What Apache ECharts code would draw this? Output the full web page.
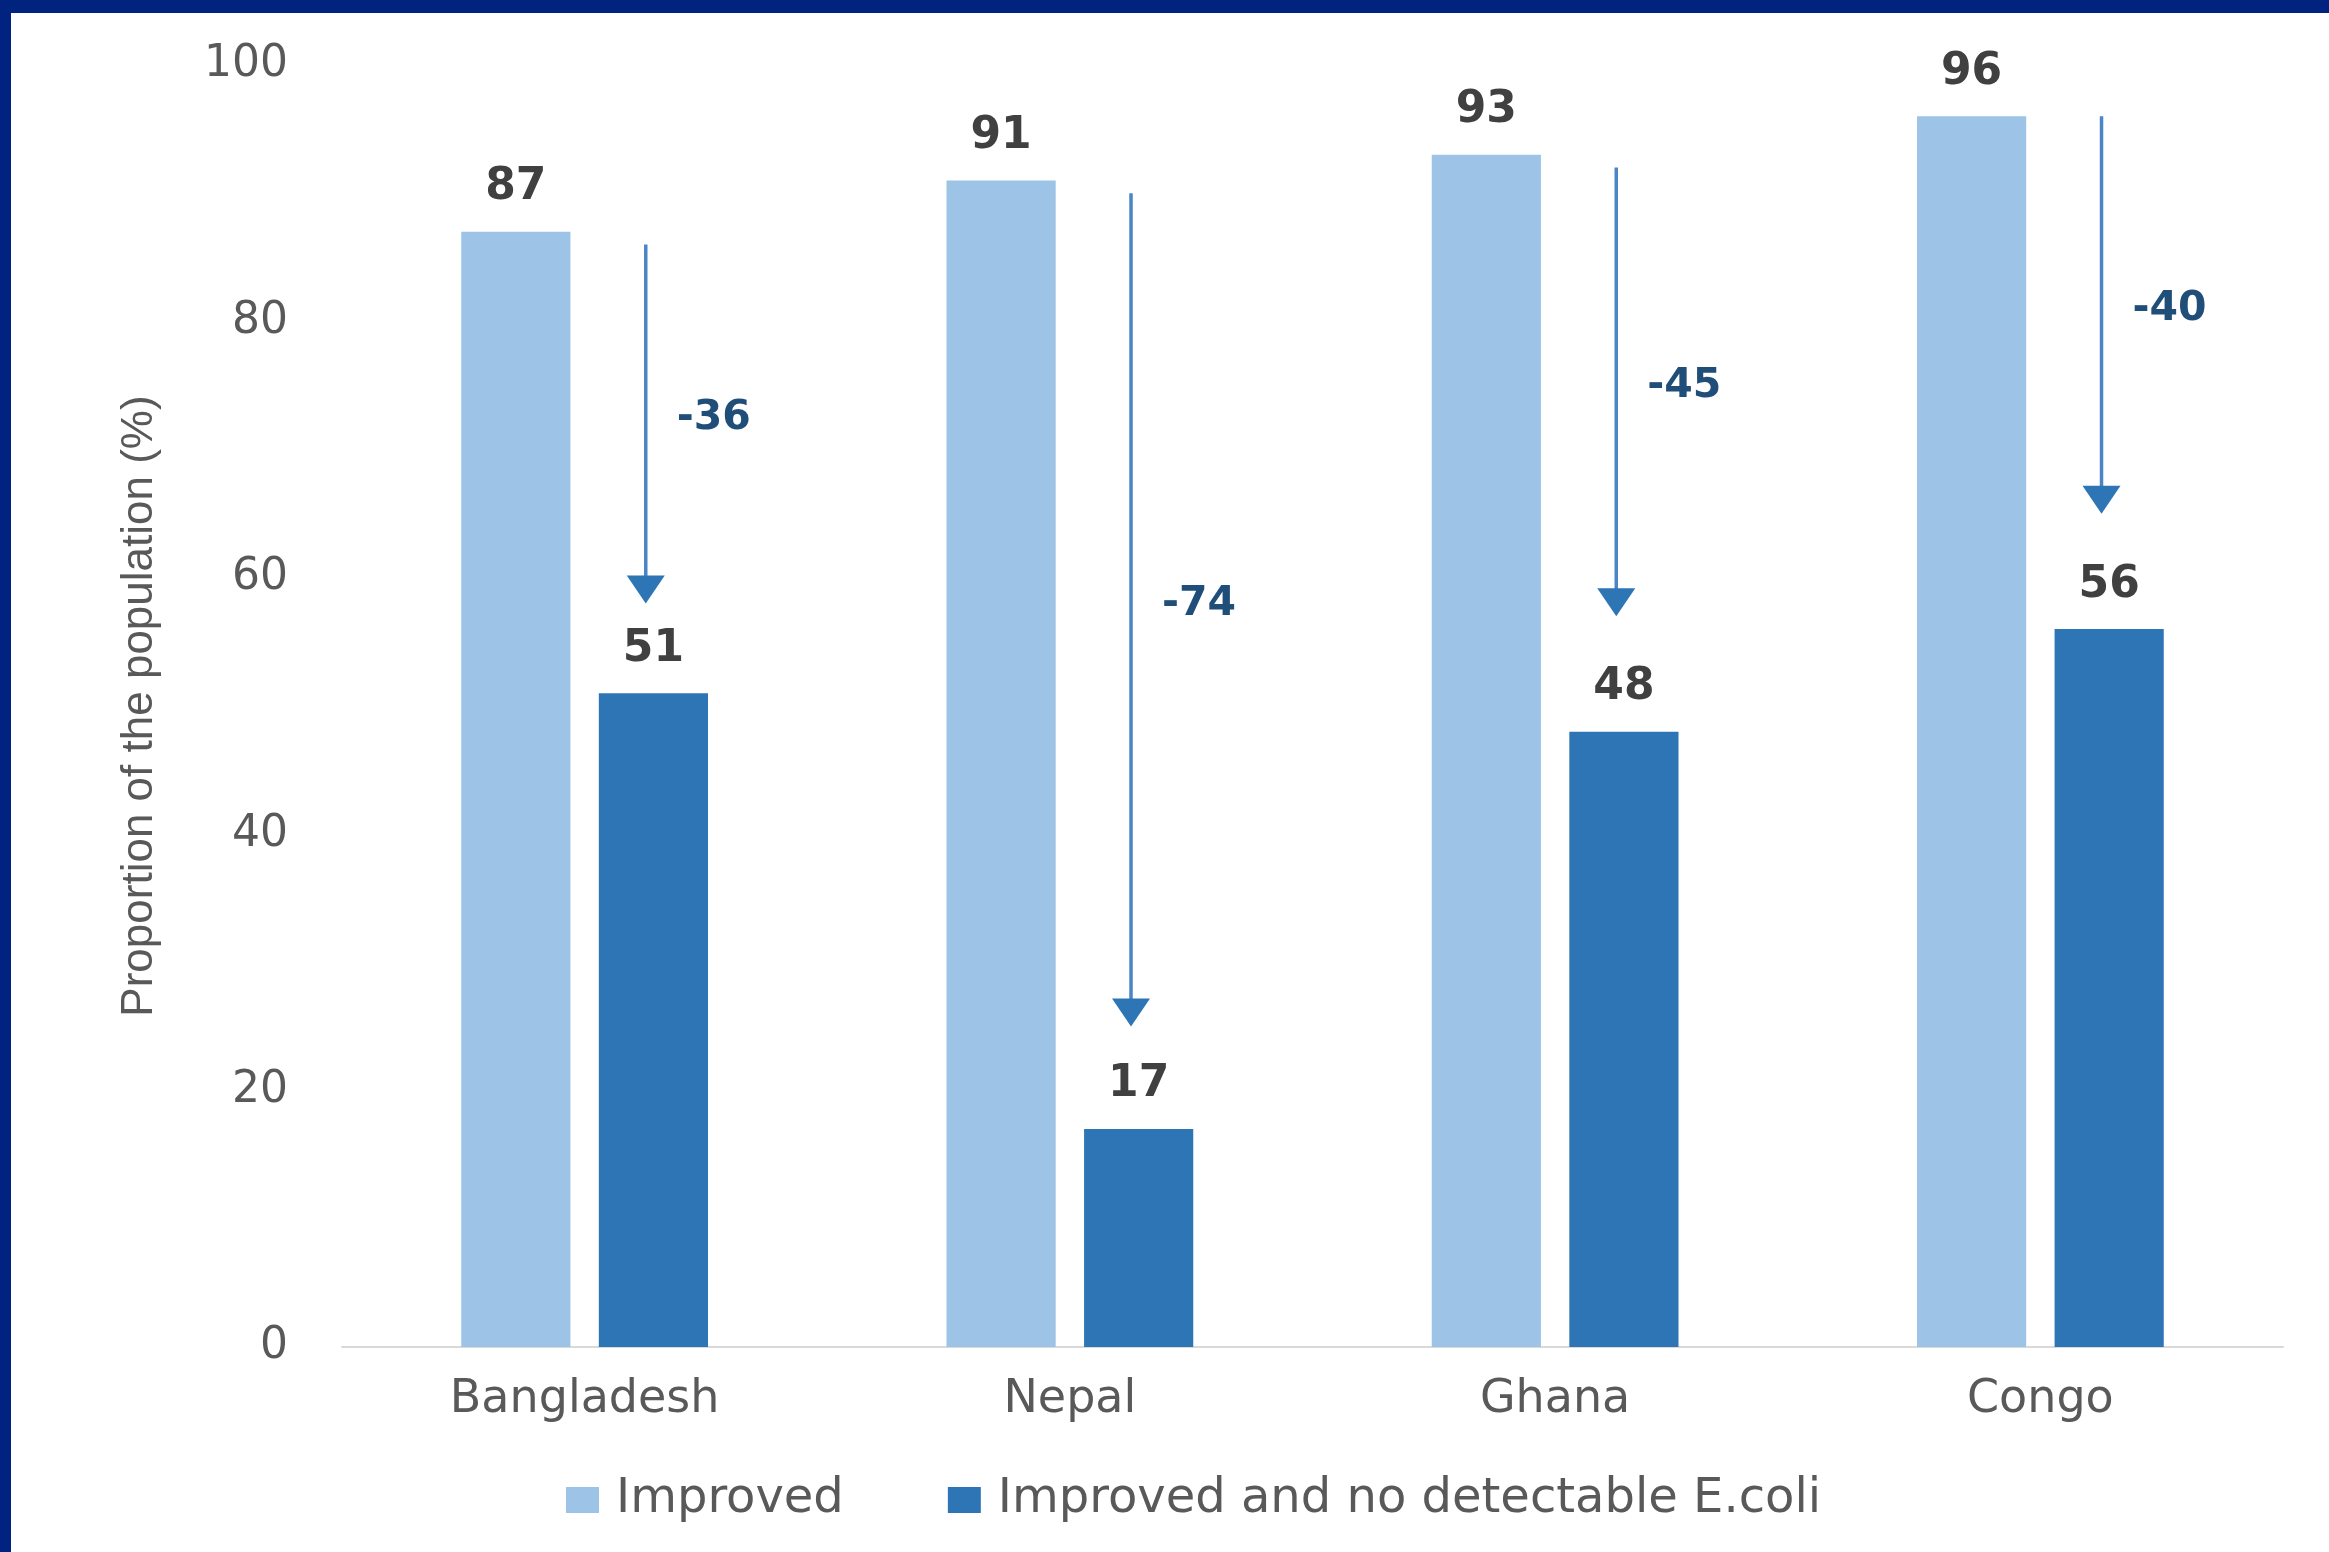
<!DOCTYPE html>
<html>
<head>
<meta charset="utf-8">
<script src="https://cdn.jsdelivr.net/npm/echarts@6/dist/echarts.min.js"></script>
<style>
html,body{margin:0;padding:0;background:#fff;}
#chart{width:2329px;height:1552px;}
</style>
</head>
<body>
<div id="chart"></div>
<script>
// ---- data ----
var categories = ['Bangladesh', 'Nepal', 'Ghana', 'Congo'];
var improved = [87, 91, 93, 96];
var improvedNoEcoli = [51, 17, 48, 56];
var arrowFrom = [86, 90, 92, 96];   // where each arrow starts (value scale)
var arrowTo = [58, 25, 57, 65];     // where each arrow tip ends (value scale)
var changeLabels = ['-36', '-74', '-45', '-40'];
var yTicks = [0, 20, 40, 60, 80, 100];
var seriesNames = ['Improved', 'Improved and no detectable E.coli'];

var arrowData = categories.map(function (c, i) {
  return [i, arrowFrom[i], arrowTo[i]];
});

var chart = echarts.init(document.getElementById('chart'), null, {renderer: 'canvas'});

var option = {
  backgroundColor: '#ffffff',
  animation: false,
  graphic: [
    {type: 'rect', left: 0, top: 0, shape: {width: 2329, height: 13}, style: {fill: '#002380'}, z: 100},
    {type: 'rect', left: 0, top: 0, shape: {width: 11, height: 1552}, style: {fill: '#002380'}, z: 100}
  ],
  grid: {left: 342, right: 46, top: 65, bottom: 205, containLabel: false},
  legend: {
    data: seriesNames,
    left: 561,
    top: 1471,
    itemWidth: 33,
    itemHeight: 26,
    itemGap: 104,
    icon: 'rect',
    textStyle: {fontFamily: 'DejaVu Sans', fontSize: 48, color: '#595959', padding: [0, 0, 0, 12]}
  },
  xAxis: {
    type: 'category',
    data: categories,
    axisLine: {show: true, lineStyle: {color: '#D9D9D9', width: 2}},
    axisTick: {show: false},
    axisLabel: {fontFamily: 'DejaVu Sans', fontSize: 46, color: '#595959', margin: 30}
  },
  yAxis: {
    type: 'value',
    min: yTicks[0],
    max: yTicks[yTicks.length - 1],
    interval: 20,
    name: 'Proportion of the population (%)',
    nameLocation: 'middle',
    nameGap: 180,
    nameRotate: 90,
    nameTextStyle: {fontFamily: 'Liberation Sans Narrow, Liberation Sans', fontSize: 44, color: '#595959'},
    axisLine: {show: false},
    axisTick: {show: false},
    splitLine: {show: false},
    axisLabel: {fontFamily: 'DejaVu Sans', fontSize: 44, color: '#595959', margin: 54}
  },
  series: [
    {
      name: seriesNames[0],
      type: 'bar',
      data: improved,
      barWidth: '22.5%',
      barGap: '26%',
      itemStyle: {color: '#9DC3E6'},
      label: {show: true, position: 'top', distance: 22, fontFamily: 'DejaVu Sans', fontWeight: 'bold', fontSize: 44, color: '#404040'}
    },
    {
      name: seriesNames[1],
      type: 'bar',
      data: improvedNoEcoli,
      barWidth: '22.5%',
      barGap: '26%',
      itemStyle: {color: '#2E75B6'},
      label: {show: true, position: 'top', distance: 22, fontFamily: 'DejaVu Sans', fontWeight: 'bold', fontSize: 44, color: '#404040'}
    },
    {
      name: 'arrows',
      type: 'custom',
      silent: true,
      z: 10,
      data: arrowData,
      encode: {x: 0, y: [1, 2]},
      renderItem: function (params, api) {
        var ci = api.value(0);
        var top = api.coord([ci, api.value(1)]);
        var tip = api.coord([ci, api.value(2)]);
        var band = api.size([1, 0])[0];
        var x = top[0] + band * 0.126;
        var headH = 28, headW = 38;
        var label = changeLabels[params.dataIndex];
        return {
          type: 'group',
          children: [
            {type: 'line', shape: {x1: x, y1: top[1], x2: x, y2: tip[1] - headH + 2},
              style: {stroke: '#4A86C5', lineWidth: 3.5}},
            {type: 'polygon', shape: {points: [[x - headW / 2, tip[1] - headH], [x + headW / 2, tip[1] - headH], [x, tip[1]]]},
              style: {fill: '#2E75B6'}},
            {type: 'text', x: x + 68, y: (top[1] + tip[1]) / 2 - 6,
              style: {text: label, fill: '#1F4E79', fontFamily: 'DejaVu Sans', fontWeight: 'bold', fontSize: 41,
                align: 'center', verticalAlign: 'middle'}}
          ]
        };
      }
    }
  ]
};
chart.setOption(option);
</script>
</body>
</html>
